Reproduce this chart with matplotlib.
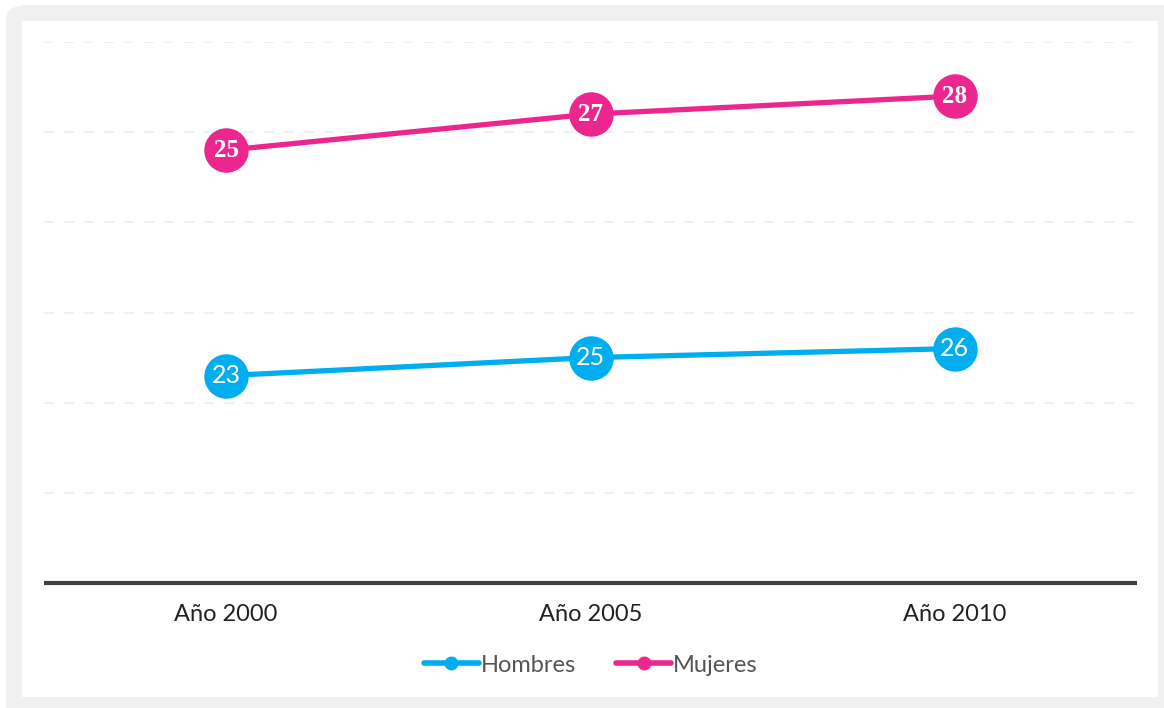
import numpy as np
import matplotlib
matplotlib.use("Agg")
import matplotlib.pyplot as plt
from matplotlib.patches import FancyBboxPatch, Rectangle
from matplotlib.lines import Line2D

# ── DATA ──────────────────────────────────────────────────
years = ["Año 2000", "Año 2005", "Año 2010"]
hombres = [23, 25, 26]
mujeres = [25, 27, 28]
y_ticks = [10, 20, 30, 40, 50, 60]

BLUE = "#00aeef"
PINK = "#ec268f"

W, H = 1164, 708
fig = plt.figure(figsize=(W / 100, H / 100), dpi=100)
fig.patch.set_facecolor("white")

# gray frame + white panel (frame runs off the right and bottom edges)
fig.patches.append(FancyBboxPatch((6 / W, -0.2), 1.2, (H - 5) / H + 0.2,
                                  boxstyle="round,pad=0,rounding_size=0.02",
                                  transform=fig.transFigure, facecolor="#f0f0f0",
                                  edgecolor="none", zorder=0))
fig.patches.append(Rectangle((22 / W, (H - 697) / H), (1158 - 22) / W, (697 - 21) / H,
                             transform=fig.transFigure, facecolor="white",
                             edgecolor="none", zorder=1))

ax = fig.add_axes([44 / W, (H - 583) / H, (1137 - 44) / W, (583 - 42) / H])
ax.set_facecolor("none")
ax.set_zorder(2)

x = np.arange(len(years))
# stacked lines: mujeres sits on top of hombres
top = np.array(hombres) + np.array(mujeres)

for yv in y_ticks:
    ax.axhline(yv, color="#eeeeee", linewidth=1.2, linestyle=(0, (6, 6)), zorder=1)

ax.plot(x, hombres, color=BLUE, linewidth=3.8, marker="o", markersize=32,
        markeredgewidth=0, zorder=3)
ax.plot(x, top, color=PINK, linewidth=3.8, marker="o", markersize=32,
        markeredgewidth=0, zorder=3)

for xi, yv, lab in zip(x, hombres, hombres):
    ax.text(xi, yv, str(lab), ha="center", va="center", color="white",
            fontsize=18, family="Lato", zorder=4)
for xi, yv, lab in zip(x, top, mujeres):
    ax.text(xi, yv, str(lab), ha="center", va="center", color="white",
            fontsize=18, fontweight="bold", family="Liberation Serif", zorder=4)

ax.set_xlim(-0.5, len(years) - 0.5)
ax.set_ylim(0, 60)
ax.set_yticks([])
ax.set_xticks(x)
ax.set_xticklabels(years, fontsize=17, family="Lato", color="#222222")
ax.tick_params(axis="x", length=0, pad=15)
for s in ["top", "right", "left"]:
    ax.spines[s].set_visible(False)
ax.spines["bottom"].set_color("#404040")
ax.spines["bottom"].set_linewidth(3)
ax.spines["bottom"].set_capstyle("butt")

handles = [
    Line2D([], [], color=BLUE, linewidth=4, marker="o", markersize=9,
           solid_capstyle="round"),
    Line2D([], [], color=PINK, linewidth=4, marker="o", markersize=9,
           solid_capstyle="round"),
]
leg = fig.legend(handles, ["Hombres", "Mujeres"], loc="center",
                 bbox_to_anchor=(591 / W, (H - 665) / H), ncol=2, frameon=False,
                 handlelength=2.3, handletextpad=0.1, columnspacing=1.7,
                 prop={"family": "Lato", "size": 17})
for t in leg.get_texts():
    t.set_color("#555555")
leg.set_zorder(3)

plt.savefig("out.png", dpi=100)
